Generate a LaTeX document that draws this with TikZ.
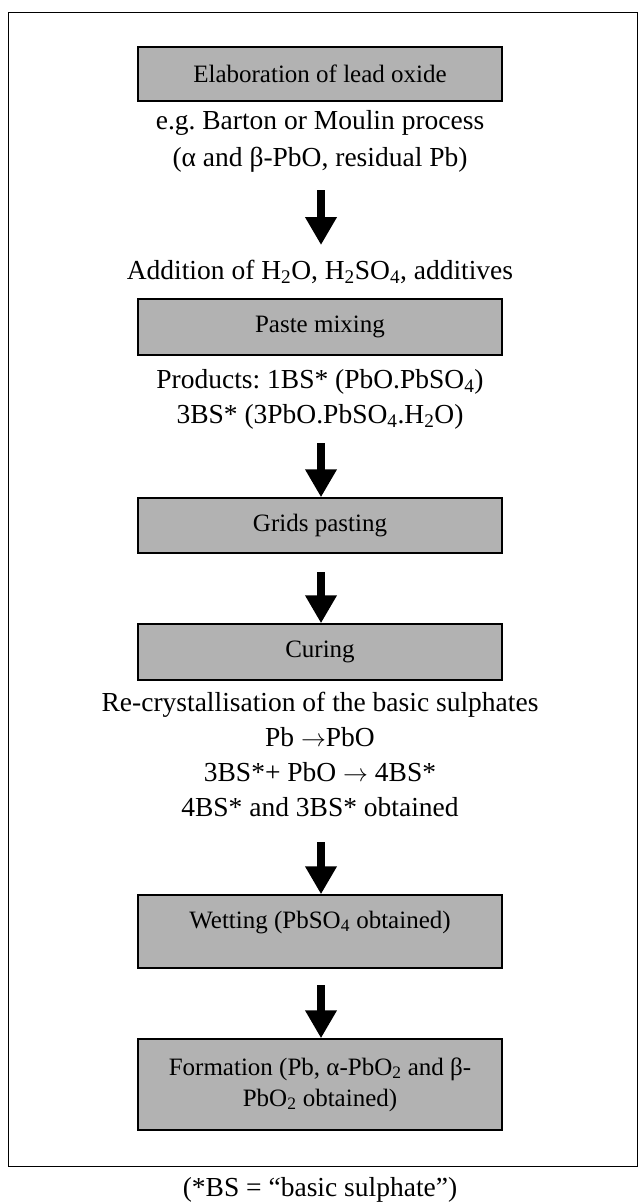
\documentclass[tikz,border=0pt]{standalone}
\usepackage{fontspec}
\setmainfont{Liberation Serif}
\usetikzlibrary{arrows.meta}
\frenchspacing
\newcommand{\outfont}{\fontsize{27.5}{35}\selectfont}
\newcommand{\boxfont}{\fontsize{25}{31}\selectfont}
\begin{document}
\begin{tikzpicture}[x=1pt,y=-1pt,
  stepbox/.style={draw=black, line width=1.5pt, fill=black!30, minimum width=364pt,
    inner sep=0pt, font=\boxfont, align=center},
  txt/.style={font=\outfont, align=center, inner sep=0pt},
  flow/.style={line width=7.5pt, -{Triangle[width=30pt,length=28pt]}},
  frame/.style={draw=black, line width=1.2pt, inner sep=0pt, minimum width=629pt, minimum height=1154pt}]
\useasboundingbox (0,0) rectangle (640,1202);
\node[frame, anchor=north west] (frm) at (8,12) {};
\node[stepbox, minimum height=54pt] (b1) at (320,74) {Elaboration of lead oxide};
\node[txt] (t1) at (320,141.5) {e.g. Barton or Moulin process\\[2pt](α and β-PbO, residual Pb)};
\node[txt] (t2) at (320,272) {Addition of H\textsubscript{2}O, H\textsubscript{2}SO\textsubscript{4}, additives};
\node[stepbox, minimum height=56pt] (b2) at (320,327) {Paste mixing};
\node[txt] (t3) at (320,399.5) {Products: 1BS* (PbO.PbSO\textsubscript{4})\\3BS* (3PbO.PbSO\textsubscript{4}.H\textsubscript{2}O)};
\node[stepbox, minimum height=55pt] (b3) at (320,525.5) {Grids pasting};
\node[stepbox, minimum height=56pt] (b4) at (320,652) {Curing};
\node[txt] (t4) at (320,754) {Re-crystallisation of the basic sulphates\\Pb $\rightarrow$PbO\\3BS*+ PbO $\rightarrow$ 4BS*\\4BS* and 3BS* obtained};
\node[stepbox, minimum height=73pt, text height=17.5pt, text depth=24pt] (b5) at (320,931.5) {Wetting (PbSO\textsubscript{4} obtained)};
\node[stepbox, minimum height=91pt] (b6) at (320,1084.5) {Formation (Pb, α-PbO\textsubscript{2} and β-\\PbO\textsubscript{2} obtained)};
\node[txt] (cap) at (320,1190) {(*BS = “basic sulphate”)};
\coordinate (a1s) at (321,190);
\coordinate (a1e) at (321,245);
\coordinate (a2s) at (321,443);
\coordinate (a3s) at (321,572);
\coordinate (a4s) at (321,842);
\coordinate (a5s) at (321,985);
\draw[flow] (a1s) -- (a1e);
\draw[flow] (a2s) -- (b3.north -| a2s);
\draw[flow] (a3s) -- (b4.north -| a3s);
\draw[flow] (a4s) -- (b5.north -| a4s);
\draw[flow] (a5s) -- (b6.north -| a5s);
\end{tikzpicture}
\end{document}
